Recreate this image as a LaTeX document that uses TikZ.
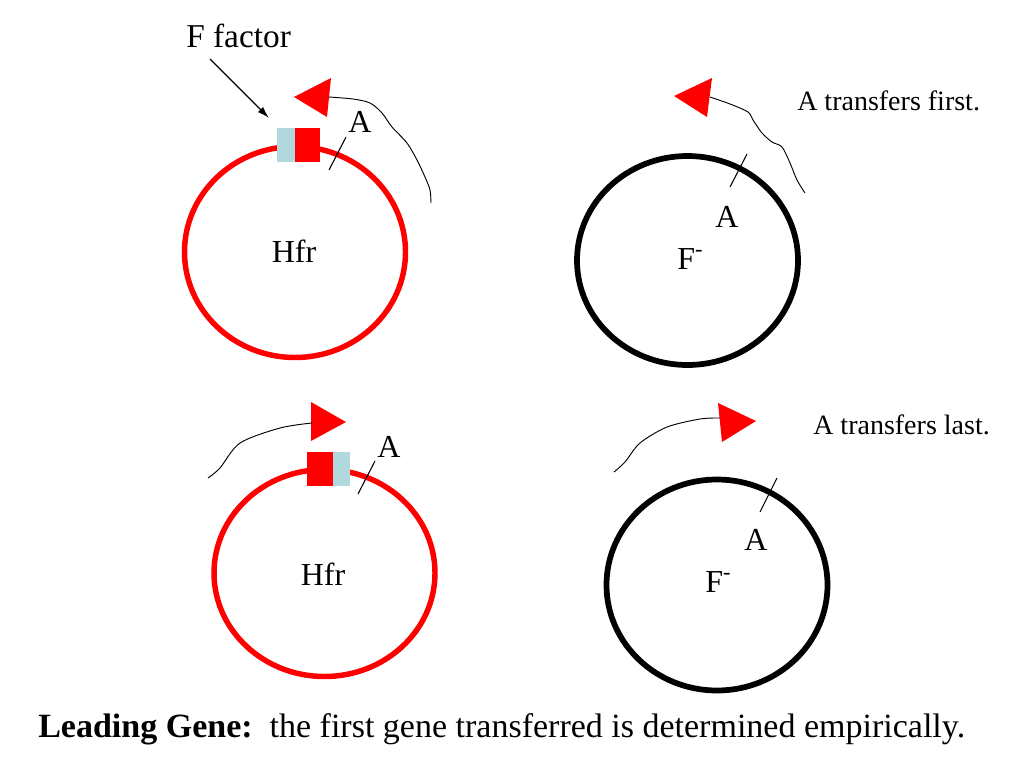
\documentclass[tikz,border=0pt]{standalone}
\usepackage{fontspec}
\setmainfont{Liberation Serif}
\usetikzlibrary{arrows.meta}
\definecolor{pred}{RGB}{255,0,0}
\definecolor{fblue}{RGB}{176,216,221}
\tikzset{
  ringred/.style={draw=pred, line width=4.1pt},
  ringblack/.style={draw=black, line width=4.3pt},
  lbl/.style={inner sep=0pt, font=\fontsize{24}{28}\selectfont},
  sidetxt/.style={inner sep=0pt, font=\fontsize{21}{25}\selectfont, anchor=base west},
  tri/.style={fill=pred, draw=none},
  wire/.style={draw=black, line width=0.7pt, line join=round},
  tick/.style={draw=black, line width=0.8pt},
  redbox/.style={fill=pred, draw=none},
  bluebox/.style={fill=fblue, draw=none}
}
\begin{document}
\begin{tikzpicture}[x=0.75pt,y=-0.75pt]
\useasboundingbox (0,0) rectangle (1024,768);

% ---------- top left (Hfr) ----------
\draw[ringred] (295,252) ellipse [x radius=110.5, y radius=105.5];
\fill[bluebox] (277,128) rectangle (295,162);
\fill[redbox] (295,128) rectangle (320,162);
\fill[tri] (294,97) -- (331,78) -- (327,117) -- cycle;
\draw[wire] plot[smooth, tension=0.5] coordinates {(329,97) (353,99) (370,103) (382,113) (392,127) (407,143) (417,160) (425,177) (430,190) (431,203)};
\draw[tick] (346,137) -- (329,170);
\node[lbl, anchor=base] (a1) at (360,132) {A};
\node[lbl, anchor=base] (hfr1) at (294,262) {Hfr};
\node[inner sep=0pt, anchor=base west, font=\fontsize{25}{29}\selectfont] (ff) at (186,47) {F factor};
\coordinate (ffs) at (210,59);
\coordinate (ffe) at (269,118);
\draw[line width=1pt, -{Latex[length=9pt,width=5.5pt]}] (ffs) -- (ffe);

% ---------- top right (F-) ----------
\draw[ringblack] (687.5,260.5) ellipse [x radius=110.5, y radius=104.5];
\fill[tri] (674,96) -- (712,78) -- (707,117) -- cycle;
\draw[wire] plot[smooth, tension=0.5] coordinates {(710,97) (730,104) (748,112) (753,120) (762,133) (772,142) (782,147) (790,163) (797,180) (805,193)};
\draw[tick] (747,154) -- (730,187);
\node[lbl, anchor=base] (a2) at (727,227) {A};
\node[lbl, anchor=base west] (f2) at (677,269) {F\textsuperscript{-}};
\node[sidetxt] (t1) at (797,110) {A transfers first.};

% ---------- bottom left (Hfr) ----------
\draw[ringred] (324.5,573) ellipse [x radius=110.5, y radius=103.5];
\fill[redbox] (307,452) rectangle (333,486);
\fill[bluebox] (333,452) rectangle (350,486);
\fill[tri] (311,402) -- (346,422) -- (311,441) -- cycle;
\draw[wire] plot[smooth, tension=0.5] coordinates {(312,423) (280,428) (240,443) (220,468) (208,478)};
\draw[tick] (375,461) -- (358,494);
\node[lbl, anchor=base] (a3) at (389,457) {A};
\node[lbl, anchor=base] (hfr3) at (323,585) {Hfr};

% ---------- bottom right (F-) ----------
\draw[ringblack] (717,585) ellipse [x radius=110.5, y radius=105.5];
\fill[tri] (718,403) -- (756,421) -- (722,442) -- cycle;
\draw[wire] plot[smooth, tension=0.5] coordinates {(720,418) (700,419) (667,427) (640,443) (625,462) (614,472)};
\draw[tick] (777,478) -- (760,512);
\node[lbl, anchor=base] (a4) at (756,550) {A};
\node[lbl, anchor=base west] (f4) at (705,592) {F\textsuperscript{-}};
\node[sidetxt] (t2) at (813,434) {A transfers last.};

% ---------- caption ----------
\node[inner sep=0pt, anchor=base west, font=\fontsize{25.5}{30}\selectfont] (cap) at (38,737) {\textbf{Leading Gene:}\ \ the first gene transferred is determined empirically.};
\end{tikzpicture}
\end{document}
